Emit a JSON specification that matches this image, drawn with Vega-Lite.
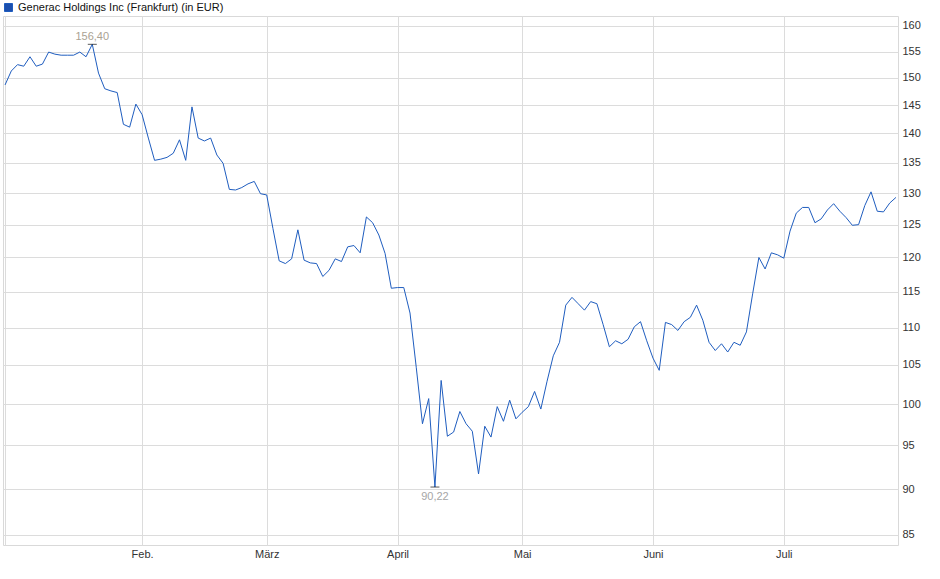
{
  "$schema": "https://vega.github.io/schema/vega-lite/v6.json",
  "width": 895,
  "height": 529,
  "autosize": "none",
  "padding": {"left": 3, "top": 16, "right": 42, "bottom": 34},
  "background": "white",
  "config": {
    "font": "Liberation Sans",
    "view": {"stroke": "#d9d9d9", "strokeWidth": 1}
  },
  "data": {
    "values": [
      {"date": "2025-01-02", "close": 148.7}, {"date": "2025-01-03", "close": 151.3},
      {"date": "2025-01-06", "close": 152.5}, {"date": "2025-01-07", "close": 152.2},
      {"date": "2025-01-08", "close": 154.0}, {"date": "2025-01-09", "close": 152.2},
      {"date": "2025-01-10", "close": 152.6}, {"date": "2025-01-13", "close": 154.9},
      {"date": "2025-01-14", "close": 154.5}, {"date": "2025-01-15", "close": 154.3},
      {"date": "2025-01-16", "close": 154.3}, {"date": "2025-01-17", "close": 154.3},
      {"date": "2025-01-20", "close": 154.9}, {"date": "2025-01-21", "close": 154.0},
      {"date": "2025-01-22", "close": 156.4}, {"date": "2025-01-23", "close": 150.9},
      {"date": "2025-01-24", "close": 148.0}, {"date": "2025-01-27", "close": 147.6},
      {"date": "2025-01-28", "close": 147.3}, {"date": "2025-01-29", "close": 141.6},
      {"date": "2025-01-30", "close": 141.1}, {"date": "2025-01-31", "close": 145.2},
      {"date": "2025-02-03", "close": 143.3}, {"date": "2025-02-04", "close": 139.2},
      {"date": "2025-02-05", "close": 135.4}, {"date": "2025-02-06", "close": 135.6},
      {"date": "2025-02-07", "close": 135.9}, {"date": "2025-02-10", "close": 136.6},
      {"date": "2025-02-11", "close": 138.9}, {"date": "2025-02-12", "close": 135.4},
      {"date": "2025-02-13", "close": 144.7}, {"date": "2025-02-14", "close": 139.2},
      {"date": "2025-02-17", "close": 138.7}, {"date": "2025-02-18", "close": 139.2},
      {"date": "2025-02-19", "close": 136.3}, {"date": "2025-02-20", "close": 134.9},
      {"date": "2025-02-21", "close": 130.6}, {"date": "2025-02-24", "close": 130.5},
      {"date": "2025-02-25", "close": 130.9}, {"date": "2025-02-26", "close": 131.5},
      {"date": "2025-02-27", "close": 131.9}, {"date": "2025-02-28", "close": 129.9},
      {"date": "2025-03-03", "close": 129.7}, {"date": "2025-03-04", "close": 124.4},
      {"date": "2025-03-05", "close": 119.5}, {"date": "2025-03-06", "close": 119.1},
      {"date": "2025-03-07", "close": 119.8}, {"date": "2025-03-10", "close": 124.2},
      {"date": "2025-03-11", "close": 119.6}, {"date": "2025-03-12", "close": 119.2},
      {"date": "2025-03-13", "close": 119.1}, {"date": "2025-03-14", "close": 117.2},
      {"date": "2025-03-17", "close": 118.1}, {"date": "2025-03-18", "close": 119.8},
      {"date": "2025-03-19", "close": 119.4}, {"date": "2025-03-20", "close": 121.6},
      {"date": "2025-03-21", "close": 121.8}, {"date": "2025-03-24", "close": 120.7},
      {"date": "2025-03-25", "close": 126.2}, {"date": "2025-03-26", "close": 125.3},
      {"date": "2025-03-27", "close": 123.4}, {"date": "2025-03-28", "close": 120.6},
      {"date": "2025-03-31", "close": 115.5}, {"date": "2025-04-01", "close": 115.6},
      {"date": "2025-04-02", "close": 115.6}, {"date": "2025-04-03", "close": 112.0},
      {"date": "2025-04-04", "close": 104.7}, {"date": "2025-04-07", "close": 97.6},
      {"date": "2025-04-08", "close": 100.7}, {"date": "2025-04-09", "close": 90.22},
      {"date": "2025-04-10", "close": 103.0}, {"date": "2025-04-11", "close": 96.1},
      {"date": "2025-04-14", "close": 96.6}, {"date": "2025-04-15", "close": 99.1},
      {"date": "2025-04-16", "close": 97.6}, {"date": "2025-04-17", "close": 96.7},
      {"date": "2025-04-22", "close": 91.7}, {"date": "2025-04-23", "close": 97.3},
      {"date": "2025-04-24", "close": 96.0}, {"date": "2025-04-25", "close": 99.7},
      {"date": "2025-04-28", "close": 97.9}, {"date": "2025-04-29", "close": 100.5},
      {"date": "2025-04-30", "close": 98.2}, {"date": "2025-05-02", "close": 99.0},
      {"date": "2025-05-05", "close": 99.7}, {"date": "2025-05-06", "close": 101.6},
      {"date": "2025-05-07", "close": 99.4}, {"date": "2025-05-08", "close": 102.9},
      {"date": "2025-05-09", "close": 106.2}, {"date": "2025-05-12", "close": 108.0},
      {"date": "2025-05-13", "close": 113.1}, {"date": "2025-05-14", "close": 114.2},
      {"date": "2025-05-15", "close": 113.3}, {"date": "2025-05-16", "close": 112.4},
      {"date": "2025-05-19", "close": 113.6}, {"date": "2025-05-20", "close": 113.3},
      {"date": "2025-05-21", "close": 110.4}, {"date": "2025-05-22", "close": 107.4},
      {"date": "2025-05-23", "close": 108.2}, {"date": "2025-05-26", "close": 107.8},
      {"date": "2025-05-27", "close": 108.4}, {"date": "2025-05-28", "close": 110.1},
      {"date": "2025-05-29", "close": 110.8}, {"date": "2025-05-30", "close": 108.2},
      {"date": "2025-06-02", "close": 105.9}, {"date": "2025-06-03", "close": 104.3},
      {"date": "2025-06-04", "close": 110.7}, {"date": "2025-06-05", "close": 110.4},
      {"date": "2025-06-06", "close": 109.6}, {"date": "2025-06-09", "close": 110.8},
      {"date": "2025-06-10", "close": 111.4}, {"date": "2025-06-11", "close": 113.1},
      {"date": "2025-06-12", "close": 111.0}, {"date": "2025-06-13", "close": 108.0},
      {"date": "2025-06-16", "close": 106.9}, {"date": "2025-06-17", "close": 107.8},
      {"date": "2025-06-18", "close": 106.7}, {"date": "2025-06-19", "close": 108.0},
      {"date": "2025-06-20", "close": 107.6}, {"date": "2025-06-23", "close": 109.4},
      {"date": "2025-06-24", "close": 114.7}, {"date": "2025-06-25", "close": 120.0},
      {"date": "2025-06-26", "close": 118.3}, {"date": "2025-06-27", "close": 120.7},
      {"date": "2025-06-30", "close": 120.4}, {"date": "2025-07-01", "close": 119.9},
      {"date": "2025-07-02", "close": 124.0}, {"date": "2025-07-03", "close": 126.8},
      {"date": "2025-07-04", "close": 127.7}, {"date": "2025-07-07", "close": 127.7},
      {"date": "2025-07-08", "close": 125.3}, {"date": "2025-07-09", "close": 125.9},
      {"date": "2025-07-10", "close": 127.3}, {"date": "2025-07-11", "close": 128.3},
      {"date": "2025-07-14", "close": 127.1}, {"date": "2025-07-15", "close": 126.1},
      {"date": "2025-07-16", "close": 124.9}, {"date": "2025-07-17", "close": 125.0},
      {"date": "2025-07-18", "close": 128.0}, {"date": "2025-07-21", "close": 130.2},
      {"date": "2025-07-22", "close": 127.1}, {"date": "2025-07-23", "close": 127.0},
      {"date": "2025-07-24", "close": 128.4}, {"date": "2025-07-25", "close": 129.3}
    ]
  },
  "encoding": {
    "x": {
      "field": "date",
      "type": "ordinal",
      "title": null,
      "scale": {"type": "point", "padding": 0.33},
      "axis": {
        "values": ["2025-01-02", "2025-02-03", "2025-03-03", "2025-04-01", "2025-05-02", "2025-06-02", "2025-07-01"],
        "labelExpr": "datum.value == '2025-02-03' ? 'Feb.' : datum.value == '2025-03-03' ? 'März' : datum.value == '2025-04-01' ? 'April' : datum.value == '2025-05-02' ? 'Mai' : datum.value == '2025-06-02' ? 'Juni' : datum.value == '2025-07-01' ? 'Juli' : ''",
        "labelAngle": 0,
        "labelFontSize": 11,
        "labelColor": "#333333",
        "labelPadding": 3,
        "ticks": false,
        "domain": false,
        "grid": true,
        "gridColor": "#dcdcdc",
        "gridWidth": 1
      }
    },
    "y": {
      "field": "close",
      "type": "quantitative",
      "title": null,
      "scale": {"type": "log", "domain": [83.95, 162], "nice": false, "zero": false},
      "axis": {
        "orient": "right",
        "values": [85, 90, 95, 100, 105, 110, 115, 120, 125, 130, 135, 140, 145, 150, 155, 160],
        "labelFontSize": 11,
        "labelColor": "#333333",
        "labelPadding": 4,
        "ticks": false,
        "domain": false,
        "grid": true,
        "gridColor": "#dcdcdc",
        "gridWidth": 1
      }
    }
  },
  "layer": [
    {
      "mark": {"type": "line", "strokeWidth": 1, "interpolate": "linear"},
      "encoding": {
        "color": {
          "datum": "Generac Holdings Inc (Frankfurt) (in EUR)",
          "scale": {"range": ["#1f5dbf"]},
          "legend": {
            "title": null,
            "orient": "none",
            "legendX": 0,
            "legendY": -14,
            "padding": 0,
            "symbolType": "square",
            "symbolSize": 64,
            "symbolFillColor": "#1c4fae",
            "symbolStrokeColor": "#222222",
            "symbolStrokeWidth": 1,
            "labelFontSize": 11,
            "labelColor": "#111111",
            "labelOffset": 4,
            "labelLimit": 0
          }
        }
      }
    },
    {
      "transform": [
        {"joinaggregate": [{"op": "max", "field": "close", "as": "hi"}, {"op": "min", "field": "close", "as": "lo"}]},
        {"filter": "datum.close == datum.hi || datum.close == datum.lo"}
      ],
      "mark": {"type": "tick", "orient": "horizontal", "size": 9, "thickness": 1, "color": "#111111"}
    },
    {
      "transform": [
        {"joinaggregate": [{"op": "max", "field": "close", "as": "hi"}]},
        {"filter": "datum.close == datum.hi"},
        {"calculate": "replace(format(datum.close, '.2f'), '.', ',')", "as": "label"}
      ],
      "mark": {"type": "text", "baseline": "bottom", "dy": -2, "fontSize": 11, "color": "#aaa293"},
      "encoding": {"text": {"field": "label"}}
    },
    {
      "transform": [
        {"joinaggregate": [{"op": "min", "field": "close", "as": "lo"}]},
        {"filter": "datum.close == datum.lo"},
        {"calculate": "replace(format(datum.close, '.2f'), '.', ',')", "as": "label"}
      ],
      "mark": {"type": "text", "baseline": "top", "dy": 4, "fontSize": 11, "color": "#a6a6a6"},
      "encoding": {"text": {"field": "label"}}
    }
  ]
}
